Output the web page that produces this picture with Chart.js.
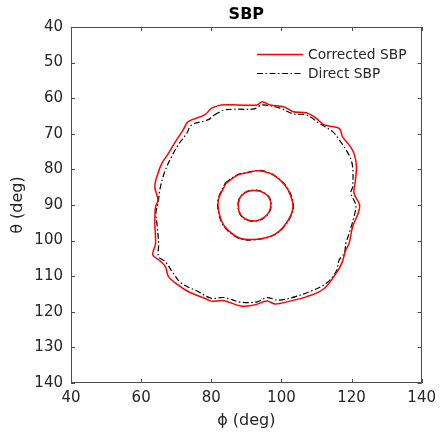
<!DOCTYPE html>
<html>
<head>
<meta charset="utf-8">
<script src="https://cdn.jsdelivr.net/npm/chart.js@4.4.1/dist/chart.umd.min.js"></script>
<style>
html,body{margin:0;padding:0;background:#fff;}
canvas{display:block;}
</style>
</head>
<body>
<canvas id="c" width="442" height="435"></canvas>
<script>
// ---- data (phi, theta in degrees) ----
const corrOuterPhi   = [80,82.8,87.5,93.1,94.5,96.8,100.6,103.4,107.1,109.9,112.3,116.5,117.4,119.3,120.7,121.4,121.0,120.7,122.3,121.9,120.3,119.3,118.4,117.2,115.6,112.0,107.1,102.4,98.2,95.9,92.2,88.4,83.7,80.0,78.1,73.4,70.6,67.8,66.9,65.0,63.3,64.1,63.9,64.1,64.8,63.9,64.5,65.9,67.8,69.2,72.0,73.4,78.1,80];
const corrOuterTheta = [62.8,61.9,61.9,61.9,61.0,61.9,62.4,63.8,64.1,65.6,67.5,68.5,70.8,73.1,75.5,79.2,83.9,86.7,90.0,92.3,96.1,100.8,102.6,106.4,109.2,113.6,115.8,117.0,117.8,117.0,118.1,118.4,116.9,117.0,116.2,114.3,112.5,110.1,107.3,105.4,104.0,100.8,95.1,90.5,88.6,84.9,82.0,78.3,75.5,73.1,68.9,66.6,64.7,62.8];

const directOuterPhi   = [80.9,83.7,87.5,92.2,94.5,99.6,103.4,107.1,110.9,114.6,116.5,119.3,120.3,120.3,119.8,121.2,120.7,119.3,118.4,117.9,116.5,115.6,112.8,108.1,102.4,98.7,95.9,93.1,88.4,83.7,80.0,76.2,71.5,69.2,66.9,65.0,65.0,64.5,64.2,64.8,65.5,66.9,68.7,70.6,73.0,74.4,79.0,80.9];
const directOuterTheta = [64.7,63.3,63.1,63.0,61.9,62.8,64.4,64.7,67.1,69.4,71.7,76.0,79.2,84.9,86.7,90.0,93.3,98.0,100.8,103.6,105.4,108.7,112.0,114.3,116.2,116.7,116.0,117.2,117.3,116.0,116.2,114.3,112.0,109.2,105.9,104.5,100.8,95.1,92.3,89.5,84.9,80.2,76.4,73.1,69.9,67.5,66.1,64.7];

const corrMidPhi   = [84.2,87.5,90.5,93.1,95.0,97.8,101.0,102.9,103.2,101.0,97.8,93.1,88.4,84.7,82.8,81.9,82.3,84.2];
const corrMidTheta = [83.9,81.6,80.9,80.4,80.6,81.6,84.4,88.1,91.4,95.6,98.4,99.6,99.4,97.0,94.2,90.0,87.7,83.9];

const directMidPhi   = [84.0,87.4,90.5,93.2,95.2,98.0,101.2,103.1,103.3,101.1,97.8,93.0,88.3,84.6,82.7,81.8,82.2,84.0];
const directMidTheta = [83.8,81.5,80.8,80.3,80.5,81.7,84.5,88.2,91.5,95.7,98.5,99.7,99.5,97.1,94.3,90.0,87.6,83.8];

const corrInnerPhi   = [87.7,88.3,89.6,91.3,93.2,95.0,96.4,97.0,96.5,95.1,93.0,90.7,88.9,87.9,87.7];
const corrInnerTheta = [89.6,87.8,86.6,86.0,86.0,86.6,87.8,89.8,91.9,93.5,94.4,94.3,93.3,91.7,89.6];

const directInnerPhi   = [87.6,88.2,89.6,91.3,93.2,95.1,96.5,97.1,96.6,95.1,93.0,90.7,88.8,87.8,87.6];
const directInnerTheta = [89.6,87.7,86.5,85.9,85.9,86.6,87.8,89.8,91.9,93.6,94.5,94.4,93.4,91.7,89.6];

const xTicks = [40,60,80,100,120,140];
const yTicks = [40,50,60,70,80,90,100,110,120,130,140];
const seriesNames = ['Corrected SBP','Direct SBP'];
const chartTitle = 'SBP';
const xTitle = '\u03D5 (deg)';
const yTitle = '\u03B8 (deg)';

function pts(ph, th){ return ph.map((p,i)=>({x:p, y:th[i]})); }

const RED = '#ff0000';
const BLK = '#000000';
const DASH = [6,2.5,1.5,2.5];
const FONT = '"DejaVu Sans", sans-serif';
const TXT = '#262626';
const AX = '#4d4d4d';

function red(data){ return {data, borderColor:RED, borderWidth:1.5, showLine:true, pointRadius:0, tension:0.35, fill:false}; }
function blk(data){ return {data, borderColor:BLK, borderWidth:1.2, borderDash:DASH, showLine:true, pointRadius:0, tension:0.35, fill:false}; }

const decor = {
  id:'decor',
  afterDraw(chart){
    const ctx = chart.ctx, a = chart.chartArea;
    const xs = chart.scales.x, ys = chart.scales.y;
    ctx.save();
    ctx.strokeStyle = AX; ctx.lineWidth = 1;
    ctx.strokeRect(Math.round(a.left)+0.5, Math.round(a.top)+0.5, Math.round(a.right-a.left)-1, Math.round(a.bottom-a.top)-1);
    ctx.beginPath();
    xTicks.forEach(v=>{
      const px = Math.round(xs.getPixelForValue(v))+0.5;
      ctx.moveTo(px, a.bottom); ctx.lineTo(px, a.bottom-4);
      ctx.moveTo(px, a.top); ctx.lineTo(px, a.top+4);
    });
    yTicks.forEach(v=>{
      const py = Math.round(ys.getPixelForValue(v))+0.5;
      ctx.moveTo(a.left, py); ctx.lineTo(a.left+4, py);
      ctx.moveTo(a.right, py); ctx.lineTo(a.right-4, py);
    });
    ctx.stroke();
    const cx = (a.left+a.right)/2;
    ctx.fillStyle = '#000';
    ctx.font = 'bold 16px ' + FONT;
    ctx.textAlign = 'center'; ctx.textBaseline = 'middle';
    ctx.fillText(chartTitle, cx, 14.5);
    ctx.fillStyle = TXT;
    ctx.font = '16px ' + FONT;
    ctx.fillText(xTitle, cx, 421);
    ctx.save();
    ctx.translate(18, (a.top+a.bottom)/2);
    ctx.rotate(-Math.PI/2);
    ctx.fillText(yTitle, 0, 0);
    ctx.restore();
    ctx.font = '13.8px ' + FONT;
    ctx.textAlign = 'left';
    const rows = [{y:54, c:RED, d:[], w:1.5},{y:73, c:BLK, d:DASH, w:1.2}];
    rows.forEach((r,i)=>{
      ctx.beginPath();
      ctx.strokeStyle = r.c; ctx.lineWidth = r.w; ctx.setLineDash(r.d);
      ctx.moveTo(257, r.y+0.5); ctx.lineTo(303, r.y+0.5); ctx.stroke();
      ctx.setLineDash([]);
      ctx.fillStyle = TXT;
      ctx.fillText(seriesNames[i], 308, r.y+1);
    });
    ctx.restore();
  }
};

new Chart(document.getElementById('c'), {
  type:'scatter',
  data:{ datasets:[
    red(pts(corrOuterPhi, corrOuterTheta)),
    red(pts(corrMidPhi, corrMidTheta)),
    red(pts(corrInnerPhi, corrInnerTheta)),
    blk(pts(directOuterPhi, directOuterTheta)),
    blk(pts(directMidPhi, directMidTheta)),
    blk(pts(directInnerPhi, directInnerTheta))
  ]},
  options:{
    responsive:false, animation:false,
    layout:{padding:{top:27, right:15, left:0, bottom:0}},
    plugins:{legend:{display:false}, title:{display:false}, tooltip:{enabled:false}},
    scales:{
      x:{ type:'linear', min:40, max:140,
          afterBuildTicks(s){ s.ticks = xTicks.map(v=>({value:v})); },
          afterFit(s){ s.height = 52; },
          grid:{display:false, drawTicks:false}, border:{display:false},
          ticks:{color:TXT, font:{family:FONT, size:15}, padding:6, maxRotation:0}
      },
      y:{ type:'linear', min:40, max:140, reverse:true,
          afterBuildTicks(s){ s.ticks = yTicks.map(v=>({value:v})); },
          afterFit(s){ s.width = 71; },
          grid:{display:false, drawTicks:false}, border:{display:false},
          ticks:{color:TXT, font:{family:FONT, size:15}, padding:8}
      }
    }
  },
  plugins:[decor]
});
</script>
</body>
</html>
